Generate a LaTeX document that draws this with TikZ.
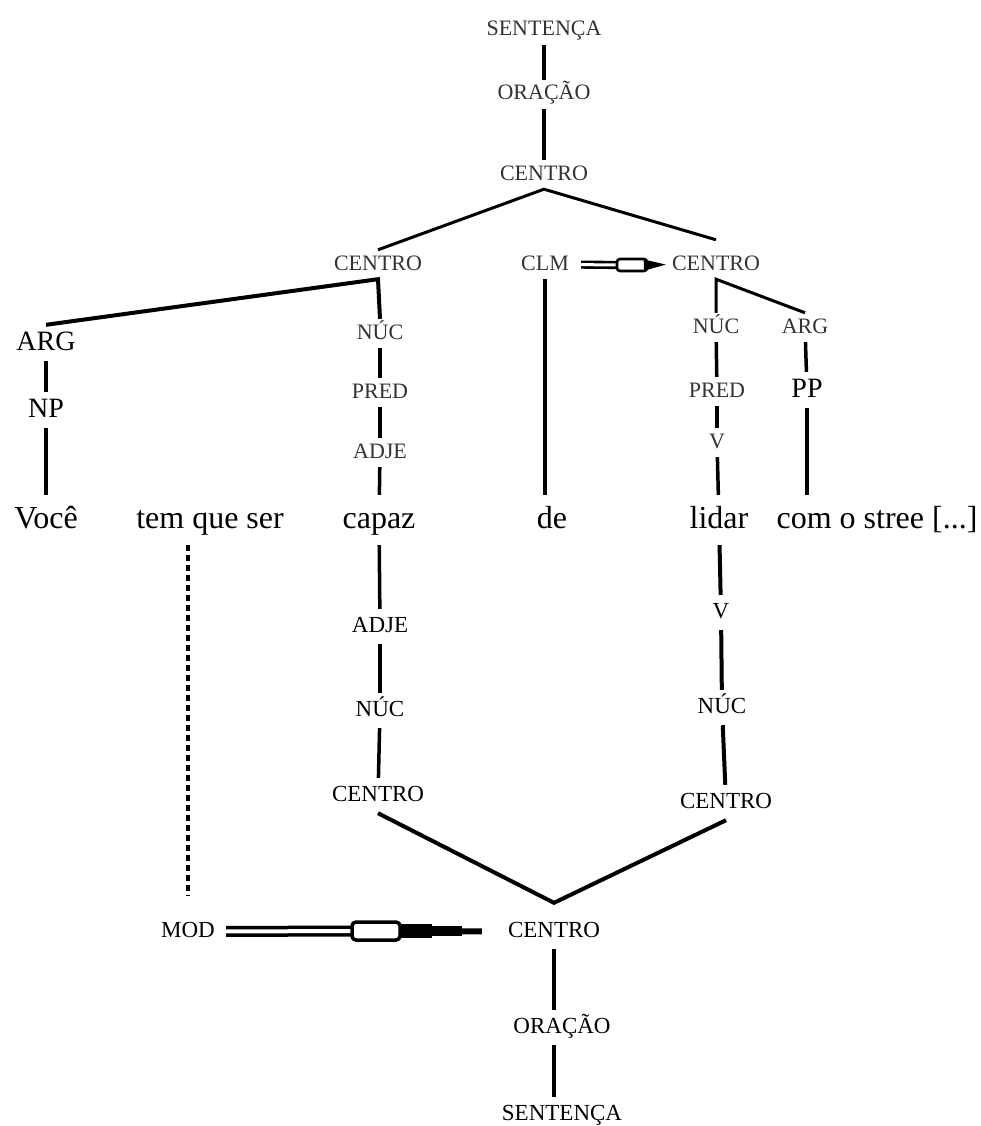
\documentclass[tikz,border=0pt]{standalone}
\usepackage{fontspec}
\setmainfont{Liberation Serif}
\usetikzlibrary{arrows.meta}

\begin{document}
\begin{tikzpicture}[x=1pt,y=-1pt]
		\tikzset{
			lbl/.style={anchor=base, font=\fontsize{22}{22}\selectfont, text=black!80,
			inner xsep=2pt, inner ysep=5pt, text height=15pt, text depth=4pt},
			big/.style={anchor=base, font=\fontsize{28}{28}\selectfont,
			inner xsep=2pt, inner ysep=5pt, text height=20pt, text depth=6pt},
			word/.style={anchor=base, font=\fontsize{32}{32}\selectfont,
			inner xsep=2pt, inner ysep=10pt, text height=23pt, text depth=7pt},
			low/.style={anchor=base, font=\fontsize{23}{23}\selectfont,
			inner xsep=2pt, inner ysep=7pt, text height=16pt, text depth=5pt},
			branch/.style={line width=3.5pt},
			dotbranch/.style={line width=4pt, dash pattern=on 6pt off 4pt},
			dbl/.style={double, line width=3.5pt, double distance=4pt}
		}
		\fill[white] (0,0) rectangle (981,1126);
		\useasboundingbox (0,0) rectangle (981,1126);

		% upper tree
		\node[lbl](sent1) at (544,36){SENTENÇA};
		\node[lbl](orac1) at (544,100){ORAÇÃO};
		\node[lbl](cen1) at (544,180){CENTRO};
		\node[lbl](cenL) at (378,270){CENTRO};
		\node[lbl](clm) at (545,270){CLM};
		\node[lbl](cenR) at (716,270){CENTRO};
		\node[lbl](nucL) at (380,339){NÚC};
		\node[lbl](predL) at (380,398){PRED};
		\node[lbl](adjeL) at (380,458){ADJE};
		\node[lbl](nucR) at (716,333){NÚC};
		\node[lbl](predR) at (717,397){PRED};
		\node[lbl](vR) at (717,448){V};
		\node[lbl](argR) at (805,333){ARG};
		\node[big](argL) at (46,350){ARG};
		\node[big](npL) at (46,417){NP};
		\node[big](ppR) at (807,397){PP};

		% sentence
		\node[word](voce) at (46,528){Você};
		\node[word](tem) at (210,528){tem que ser};
		\node[word](capaz) at (379,528){capaz};
		\node[word](de) at (552,528){de};
		\node[word](lidar) at (719,528){lidar};
		\node[word](com) at (877,528){com o stree [...]};

		% lower tree
		\node[low](adje2) at (380,632){ADJE};
		\node[low](nuc2) at (380,716){NÚC};
		\node[low](cen2L) at (378,801){CENTRO};
		\node[low](v2) at (721,618){V};
		\node[low](nuc2R) at (722,713){NÚC};
		\node[low](cen2R) at (726,808){CENTRO};
		\node[low](mod) at (188,937){MOD};
		\node[low](cenB) at (554,937){CENTRO};
		\node[low](orac2) at (562,1033){ORAÇÃO};
		\node[low](sent2) at (562,1120){SENTENÇA};

		\draw[branch](sent1) -- (orac1);
		\draw[branch](orac1) -- (cen1);
		\draw[line width=3pt](cenL.north) -- (cen1.south) -- ([yshift=10pt]cenR.north);
		\draw[line width=4pt](argL.north) -- (cenL.south) -- (nucL.north);
		\draw[branch](nucL) -- (predL);
		\draw[branch](predL) -- (adjeL);
		\draw[branch](adjeL) -- (capaz);
		\draw[branch](argL) -- (npL);
		\draw[branch](npL) -- (voce);
		\draw[branch](clm.south) -- (clm.south |- de.north);
		\draw[line width=3pt](argR.north) -- (cenR.south) -- (nucR.north);
		\draw[branch](nucR) -- (predR);
		\draw[branch](predR) -- (vR);
		\draw[branch](vR) -- (lidar);
		\draw[branch](argR) -- (ppR);
		\draw[branch](ppR.south) -- (ppR.south |- com.north);

		\draw[branch](capaz) -- (adje2);
		\draw[branch](adje2) -- (nuc2);
		\draw[branch](nuc2) -- (cen2L);
		\draw[line width=4pt](lidar) -- (v2);
		\draw[line width=4pt](v2) -- (nuc2R);
		\draw[line width=4pt](nuc2R) -- (cen2R);
		\draw[line width=4pt](cen2L.south) -- ([yshift=11pt]cenB.north) -- (cen2R.south);
		\draw[dotbranch, shorten >=18pt](mod.north |- tem.south) -- (mod.north);
		\draw[line width=4pt](cenB.south) -- (cenB.south |- orac2.north);
		\draw[line width=4pt](cenB.south |- orac2.south) -- (cenB.south |- sent2.north);

		% CLM => CENTRO
		\coordinate (clmA) at (617,265);
		\coordinate (clmB) at (647,265);
		\draw[dbl, line width=2.6pt, double distance=3pt, shorten <=10pt](clm.east) -- (clmA);
		\draw[line width=2.6pt, fill=white, rounded corners=3pt](clmA) ++(0,-6) rectangle ++(30,12);
		\draw[line width=1pt, shorten >=4pt, -{Triangle[length=22pt,width=11pt]}](clmB) -- (cenR.west);

		% MOD => CENTRO
		\coordinate (modA) at (352,931);
		\coordinate (modB) at (400,931);
		\draw[dbl, shorten <=9pt](mod.east) -- (modA);
		\draw[line width=6pt, shorten >=24pt](modB) -- (cenB.west);
		\draw[line width=14pt](modB) -- ++(32,0);
		\draw[line width=10pt](modB) ++(32,0) -- ++(30,0);
		\draw[line width=3.5pt, fill=white, rounded corners=4pt](modA) ++(0,-9) rectangle ++(48,18);
	\end{tikzpicture}
\end{document}
